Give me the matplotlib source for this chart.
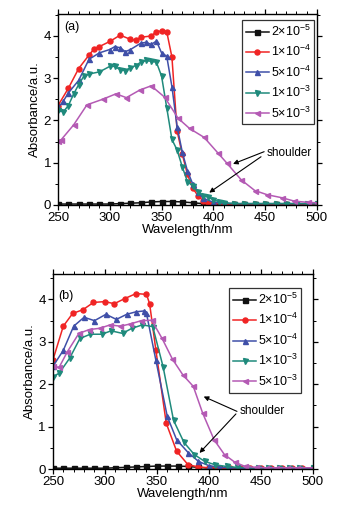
import matplotlib
matplotlib.use("Agg")
import matplotlib.pyplot as plt
from matplotlib.ticker import MultipleLocator

plt.rcParams['font.family'] = ['Liberation Sans', 'DejaVu Sans']
plt.rcParams['mathtext.fontset'] = 'custom'
plt.rcParams['mathtext.rm'] = 'Liberation Sans'
plt.rcParams['mathtext.it'] = 'Liberation Sans'
plt.rcParams['mathtext.default'] = 'regular'

labels = ['2×10$^{-5}$', '1×10$^{-4}$', '5×10$^{-4}$', '1×10$^{-3}$', '5×10$^{-3}$']
colors = ['#111111', '#f02424', '#3f4fa8', '#1f8a7c', '#b45ab4']
markers = ['s', 'o', '^', 'v', '<']

# ---- panel (a) ----
a_x_black = [250, 260, 270, 280, 290, 300, 310, 320, 330, 340, 350, 360, 370, 380, 390, 400,
             410, 420, 430, 440, 450, 460, 470, 480, 490, 500]
a_y_black = [0.02, 0.02, 0.02, 0.02, 0.02, 0.02, 0.03, 0.04, 0.05, 0.07, 0.08, 0.08, 0.07, 0.05,
             0.03, 0.02, 0.01, 0.01, 0.01, 0.01, 0.01, 0.01, 0.01, 0.01, 0.01, 0.01]

a_x_red = [250, 260, 270, 280, 285, 290, 300, 310, 320, 325, 330, 340, 345, 350, 355, 360,
           365, 370, 375, 380, 385, 390, 395, 400, 410, 420, 430, 440, 450, 460, 470, 480, 490, 500]
a_y_red = [2.35, 2.76, 3.23, 3.55, 3.7, 3.75, 3.87, 4.02, 3.92, 3.9, 3.97, 4.0, 4.1, 4.12, 4.1, 3.5,
           1.75, 1.2, 0.72, 0.4, 0.22, 0.1, 0.05, 0.03, 0.02, 0.02, 0.02, 0.02, 0.02, 0.02,
           0.02, 0.02, 0.02, 0.02]

a_x_blue = [250, 255, 260, 270, 280, 290, 300, 305, 310, 315, 320, 330, 335, 340, 345, 350,
            355, 360, 365, 370, 375, 380, 385, 390, 400, 410, 420, 430, 440, 450, 460, 470,
            480, 490, 500]
a_y_blue = [2.3, 2.45, 2.65, 2.95, 3.45, 3.6, 3.68, 3.75, 3.72, 3.63, 3.68, 3.83, 3.85, 3.8,
            3.88, 3.6, 3.52, 2.8, 1.85, 1.25, 0.8, 0.5, 0.3, 0.16, 0.06, 0.04, 0.03, 0.03,
            0.03, 0.03, 0.03, 0.03, 0.03, 0.03, 0.03]

a_x_teal = [250, 255, 260, 265, 270, 275, 280, 290, 300, 305, 310, 315, 320, 325, 330, 335,
            340, 345, 350, 355, 360, 365, 370, 375, 380, 385, 390, 395, 400, 405, 410, 420,
            430, 440, 450, 460, 470, 480, 490, 500]
a_y_teal = [2.25, 2.2, 2.35, 2.62, 2.85, 3.05, 3.1, 3.15, 3.28, 3.28, 3.2, 3.18, 3.25, 3.3,
            3.38, 3.42, 3.4, 3.38, 3.05, 2.3, 1.55, 1.3, 0.9, 0.55, 0.45, 0.3, 0.22, 0.18,
            0.12, 0.08, 0.05, 0.03, 0.03, 0.03, 0.03, 0.03, 0.03, 0.03, 0.03, 0.03]

a_x_mag = [250, 253, 265, 278, 293, 306, 316, 329, 340, 353, 366, 377, 391, 404, 413, 427,
           440, 452, 466, 478, 491, 500]
a_y_mag = [1.52, 1.54, 1.89, 2.37, 2.5, 2.63, 2.54, 2.72, 2.82, 2.55, 2.05, 1.81, 1.6, 1.24,
           0.99, 0.59, 0.34, 0.24, 0.17, 0.09, 0.06, 0.05]

# ---- panel (b) ----
b_x_black = [250, 260, 270, 280, 290, 300, 310, 320, 330, 340, 350, 360, 370, 380, 390, 400,
             410, 420, 430, 440, 450, 460, 470, 480, 490, 500]
b_y_black = [0.02, 0.02, 0.02, 0.02, 0.02, 0.02, 0.03, 0.04, 0.05, 0.06, 0.07, 0.07, 0.07, 0.06,
             0.04, 0.02, 0.02, 0.01, 0.01, 0.01, 0.01, 0.01, 0.01, 0.01, 0.01, 0.01]

b_x_red = [250, 260, 269, 279, 289, 300, 309, 319, 330, 340, 343, 349, 359, 369, 380, 390,
           400, 410, 420, 430, 440, 450, 460, 470, 480, 490, 500]
b_y_red = [2.57, 3.37, 3.67, 3.76, 3.93, 3.95, 3.9, 4.02, 4.14, 4.12, 3.9, 2.81, 1.08, 0.42,
           0.1, 0.05, 0.03, 0.02, 0.02, 0.02, 0.02, 0.02, 0.02, 0.02, 0.02, 0.02, 0.02]

b_x_blue = [250, 260, 270, 280, 290, 301, 311, 321, 330, 338, 340, 349, 360, 369, 380, 390,
            400, 410, 420, 430, 440, 450, 460, 470, 480, 490, 500]
b_y_blue = [2.42, 2.8, 3.37, 3.58, 3.5, 3.65, 3.53, 3.65, 3.71, 3.73, 3.67, 2.57, 1.24, 0.69,
            0.39, 0.18, 0.08, 0.04, 0.03, 0.02, 0.02, 0.02, 0.02, 0.02, 0.02, 0.02, 0.02]

b_x_teal = [250, 256, 266, 276, 286, 297, 306, 317, 326, 336, 346, 356, 366, 376, 386, 396,
            406, 417, 427, 437, 447, 457, 467, 477, 487, 500]
b_y_teal = [2.18, 2.26, 2.61, 3.08, 3.18, 3.18, 3.26, 3.2, 3.32, 3.4, 3.36, 2.41, 1.15, 0.63,
            0.34, 0.18, 0.1, 0.06, 0.04, 0.03, 0.03, 0.03, 0.03, 0.03, 0.03, 0.03]

b_x_mag = [250, 256, 264, 275, 285, 295, 305, 315, 324, 335, 345, 355, 365, 375, 385, 394,
           405, 415, 425, 435, 445, 455, 465, 475, 485, 500]
b_y_mag = [2.42, 2.4, 2.77, 3.2, 3.29, 3.32, 3.4, 3.37, 3.42, 3.5, 3.51, 3.08, 2.59, 2.22,
           1.95, 1.32, 0.69, 0.34, 0.16, 0.06, 0.04, 0.03, 0.03, 0.03, 0.03, 0.03]

panels = [
    ('(a)', [(a_x_black, a_y_black), (a_x_red, a_y_red), (a_x_blue, a_y_blue),
             (a_x_teal, a_y_teal), (a_x_mag, a_y_mag)],
     [0.171, 0.606, 0.764, 0.367], 4.52,
     (451, 1.22), [((449, 1.26), (419, 0.97)), ((446, 1.14), (396, 0.29))],
     (256, 4.22), (0.71, 0.969)),
    ('(b)', [(b_x_black, b_y_black), (b_x_red, b_y_red), (b_x_blue, b_y_blue),
             (b_x_teal, b_y_teal), (b_x_mag, b_y_mag)],
     [0.156, 0.098, 0.767, 0.375], 4.6,
     (430, 1.37), [((427, 1.36), (395, 1.71)), ((426, 1.3), (391, 0.38))],
     (255, 4.08), (0.677, 0.928)),
]

fig = plt.figure(figsize=(3.39, 5.2), dpi=100)

for tag, series, pos, ytop, txt, arrows, tagpos, legcorner in panels:
    ax = fig.add_axes(pos)
    for (x, y), c, m, lab in zip(series, colors, markers, labels):
        ax.plot(x, y, color=c, marker=m, markersize=3.6, linewidth=1.1, label=lab)
    ax.set_xlim(250, 500)
    ax.set_ylim(0, ytop)
    ax.xaxis.set_major_locator(MultipleLocator(50))
    ax.xaxis.set_minor_locator(MultipleLocator(10))
    ax.yaxis.set_major_locator(MultipleLocator(1))
    ax.yaxis.set_minor_locator(MultipleLocator(0.5))
    ax.tick_params(which='both', direction='out', labelsize=9.5, pad=1.5,
                   top=True, right=True)
    ax.tick_params(which='major', length=3.5, width=0.9)
    ax.tick_params(which='minor', length=2, width=0.7)
    for s in ax.spines.values():
        s.set_linewidth(1.0)
    ax.set_xlabel('Wavelength/nm', fontsize=9.5, labelpad=0)
    ax.set_ylabel('Absorbance/a.u.', fontsize=9.5, labelpad=2)
    ax.text(tagpos[0], tagpos[1], tag, fontsize=9, va='center', ha='left')
    ax.text(txt[0], txt[1], 'shoulder', fontsize=8.5, va='center', ha='left')
    for start, end in arrows:
        ax.annotate('', xy=end, xytext=start,
                    arrowprops=dict(arrowstyle='-|>', color='black', lw=0.8,
                                    mutation_scale=7, shrinkA=0, shrinkB=0))
    leg = ax.legend(loc='upper left', bbox_to_anchor=legcorner,
                    fontsize=9, frameon=True, fancybox=False, handlelength=1.9,
                    handletextpad=0.1, borderpad=0.3, labelspacing=0.42,
                    borderaxespad=0)
    leg.get_frame().set_edgecolor('black')
    leg.get_frame().set_linewidth(0.9)

fig.savefig('out.png', dpi=100)
